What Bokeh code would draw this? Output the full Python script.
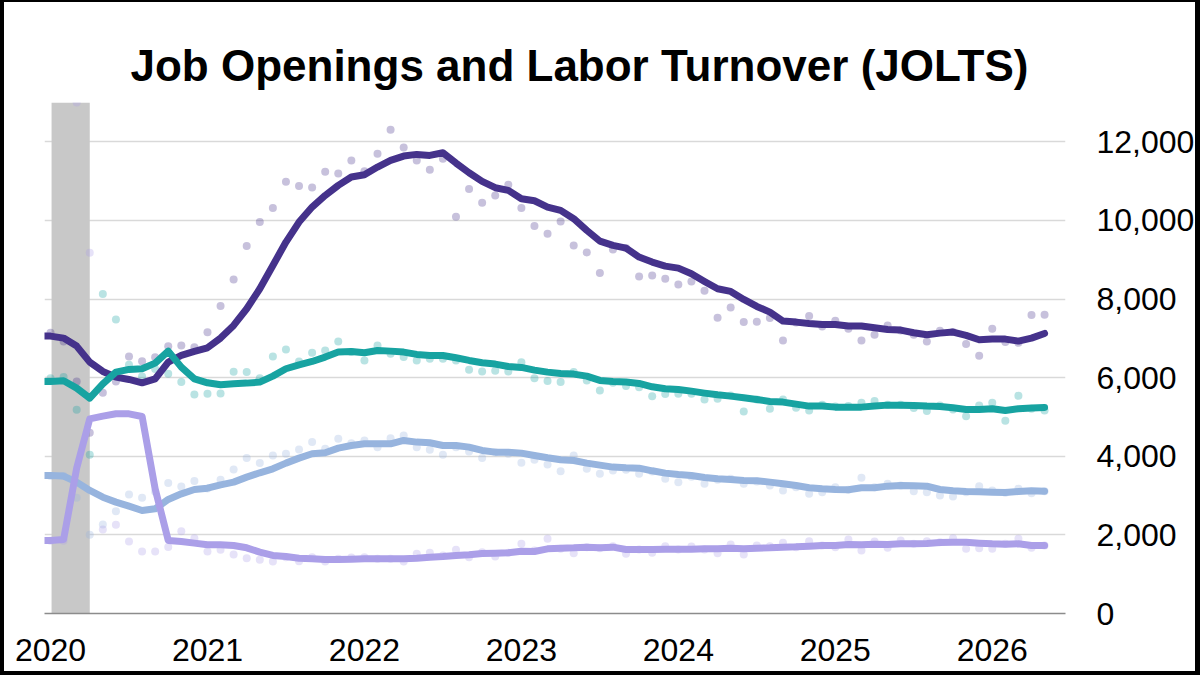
import pandas as pd
from bokeh.plotting import figure
from bokeh.models import Range1d, FixedTicker, NumeralTickFormatter, BoxAnnotation, ColumnDataSource
from bokeh.embed import file_html
from bokeh.resources import INLINE

# Monthly periods: the smoothed trends start one month earlier than the monthly readings
months = pd.period_range("2019-12", "2026-05", freq="M")
years = [2020, 2021, 2022, 2023, 2024, 2025, 2026]

# Monthly readings (thousands), Jan 2020 - May 2026
openings = [7142, 6921, 5903, 4597, 5616, 5900, 6539, 6420, 6522, 6802, 6819, 6776,
            7158, 7820, 8499, 9347, 9958, 10314, 10984, 10874, 10840, 11239, 11196, 11527,
            11250, 11697, 12307, 11858, 11527, 11290, 11570, 10094, 10798, 10450, 10636, 10908,
            10314, 9856, 9661, 9975, 9364, 9186, 8660, 9262, 9300, 8575, 8601, 8516,
            8372, 8448, 8211, 7524, 7787, 7413, 7421, 7515, 6947, 7400, 7566, 7303,
            7447, 7244, 6947, 7091, 7329, 7201, 7091, 6921, 7193, 7159, 6853, 6557,
            7244, 6904, 6887, 7591, 7600]
hires = [5988, 6014, 5183, 4037, 8126, 7481, 6327, 6031, 6220, 6099, 5887, 5573,
         5590, 5600, 6149, 6141, 5988, 6540, 6718, 6412, 6633, 6692, 6921, 6650,
         6438, 6819, 6607, 6523, 6438, 6480, 6480, 6438, 6200, 6158, 6175, 6158,
         6395, 5988, 5912, 5887, 6141, 5929, 5674, 5869, 5785, 5759, 5530, 5581,
         5590, 5590, 5445, 5462, 5547, 5140, 5445, 5208, 5445, 5233, 5166, 5310,
         5267, 5276, 5361, 5403, 5310, 5310, 5225, 5149, 5293, 5191, 5021, 5293,
         5361, 4903, 5539, 5208, 5166]
quits = [3500, 3500, 2943, 2002, 2264, 2604, 3028, 2943, 3100, 3317, 3232, 3368,
         3180, 3402, 3664, 3953, 3826, 4020, 4063, 4173, 4360, 4190, 4445, 4334,
         4400, 4232, 4461, 4529, 4232, 4165, 4037, 4230, 4122, 3953, 4105, 4063,
         3834, 3910, 3792, 3622, 4020, 3681, 3554, 3639, 3656, 3554, 3613, 3427,
         3342, 3480, 3300, 3400, 3427, 3300, 3359, 3257, 3130, 3215, 3045, 3087,
         3215, 3147, 3452, 3215, 3300, 3257, 3113, 3087, 3002, 2977, 3087, 3240,
         3130, 3070, 3172, 3062, 3113]
layoffs = [1850, 1850, 13000, 9177, 2137, 2256, 1832, 1578, 1578, 1689, 2095, 1917,
           1578, 1620, 1501, 1408, 1366, 1323, 1433, 1332, 1433, 1323, 1391, 1425,
           1433, 1391, 1391, 1323, 1518, 1544, 1476, 1620, 1433, 1561, 1450, 1544,
           1772, 1603, 1900, 1645, 1535, 1688, 1662, 1713, 1518, 1628, 1544, 1713,
           1628, 1705, 1628, 1535, 1756, 1501, 1730, 1713, 1798, 1688, 1841, 1730,
           1688, 1883, 1603, 1832, 1671, 1858, 1772, 1841, 1815, 1917, 1645, 1662,
           1645, 1772, 1900, 1671, 1730]

# Six-month trailing averages (thousands), Dec 2019 - May 2026
openings_trend = [7060, 7057, 7006, 6803, 6395, 6158, 6014, 5954, 5869, 5971, 6395, 6565,
                  6667, 6760, 7006, 7329, 7753, 8262, 8855, 9449, 9958, 10340, 10636, 10891,
                  11103, 11162, 11357, 11527, 11637, 11680, 11654, 11722, 11459, 11213, 10993, 10832,
                  10764, 10552, 10501, 10340, 10255, 10043, 9746, 9474, 9364, 9296, 9067, 8940,
                  8838, 8787, 8643, 8448, 8262, 8194, 7990, 7812, 7668, 7439, 7413, 7379,
                  7354, 7354, 7312, 7312, 7269, 7227, 7210, 7142, 7091, 7133, 7159, 7074,
                  6964, 6981, 6981, 6930, 7006, 7125]
hires_trend = [5903, 5903, 5920, 5734, 5479, 5844, 6141, 6209, 6226, 6370, 6675, 6268,
               5971, 5869, 5819, 5844, 5861, 5887, 6039, 6226, 6327, 6412, 6523, 6650,
               6667, 6633, 6692, 6675, 6650, 6591, 6565, 6565, 6506, 6438, 6378, 6345,
               6285, 6260, 6192, 6141, 6107, 6090, 6039, 5929, 5903, 5887, 5853, 5768,
               5717, 5700, 5657, 5607, 5564, 5530, 5488, 5445, 5394, 5378, 5327, 5276,
               5276, 5250, 5250, 5250, 5276, 5301, 5301, 5293, 5276, 5267, 5233, 5191,
               5191, 5208, 5166, 5208, 5225, 5242]
quits_trend = [3512, 3512, 3495, 3342, 3130, 2960, 2833, 2731, 2621, 2663, 2901, 3045,
               3155, 3189, 3274, 3342, 3469, 3580, 3681, 3826, 3953, 4063, 4089, 4207,
               4275, 4317, 4317, 4317, 4402, 4360, 4343, 4275, 4275, 4232, 4148, 4105,
               4105, 4080, 4020, 3961, 3910, 3893, 3826, 3775, 3724, 3707, 3698, 3630,
               3571, 3537, 3512, 3461, 3427, 3410, 3384, 3376, 3342, 3300, 3257, 3198,
               3172, 3155, 3147, 3198, 3198, 3240, 3257, 3249, 3240, 3155, 3121, 3104,
               3096, 3087, 3079, 3104, 3121, 3113]
layoffs_trend = [1858, 1858, 1883, 3698, 4953, 5021, 5080, 5080, 5012, 3172, 1858, 1832,
                 1790, 1747, 1747, 1730, 1671, 1561, 1476, 1450, 1408, 1391, 1374, 1374,
                 1383, 1391, 1391, 1391, 1391, 1408, 1433, 1450, 1476, 1493, 1527, 1535,
                 1544, 1586, 1578, 1645, 1662, 1671, 1688, 1671, 1688, 1628, 1628, 1628,
                 1637, 1637, 1637, 1645, 1645, 1662, 1645, 1662, 1671, 1688, 1696, 1713,
                 1730, 1730, 1756, 1747, 1764, 1756, 1772, 1772, 1781, 1806, 1815, 1815,
                 1790, 1772, 1764, 1772, 1730, 1730]

y_ticks = [0, 2000, 4000, 6000, 8000, 10000, 12000]

# month index: 0 = January 2020
idx = [(m.year - 2020) * 12 + m.month - 1 for m in months]
dot_idx = idx[1:]

series = [
    ("Job openings", openings, openings_trend, "#45328b"),
    ("Hires", hires, hires_trend, "#17a3a1"),
    ("Quits", quits, quits_trend, "#97b4de"),
    ("Layoffs", layoffs, layoffs_trend, "#ab9fe8"),
]

p = figure(width=1200, height=675,
           x_range=Range1d(-0.46, 77.6), y_range=Range1d(0, 13000),
           y_axis_location="right",
           output_backend="svg", toolbar_location=None,
           min_border_left=40, min_border_right=139,
           min_border_top=100, min_border_bottom=64)
# black frame round the whole chart
p.styles = {"border-style": "solid", "border-color": "#000",
            "border-width": "2px 5px 4px 4px", "box-sizing": "border-box"}
p.outline_line_color = None
p.background_fill_color = "white"
p.border_fill_color = "white"

p.title.text = "Job Openings and Labor Turnover (JOLTS)"
p.title.align = "left"
p.title.offset = 86
p.title.text_font = "Liberation Sans"
p.title.text_font_size = "44px"
p.title.text_font_style = "bold"
p.title.text_color = "black"
p.title.standoff = 25

# recession shading
p.add_layout(BoxAnnotation(left=0.08, right=3.0, bottom=0, top=13000,
                           fill_color="#c8c8c8", fill_alpha=1.0,
                           line_color=None, level="underlay"))

for name, dots, trend, color in series:
    src = ColumnDataSource(dict(x=dot_idx, y=dots))
    p.scatter("x", "y", source=src, size=8, fill_color=color, fill_alpha=0.3,
              line_color=None)

for name, dots, trend, color in series:
    src = ColumnDataSource(dict(x=idx, y=trend))
    p.line("x", "y", source=src, line_width=7, line_color=color,
           line_cap="round", line_join="round")

# axes
year_pos = [(y - 2020) * 12 for y in years]
p.xaxis.ticker = FixedTicker(ticks=year_pos)
p.xaxis.major_label_overrides = {pos: str(y) for pos, y in zip(year_pos, years)}
p.xaxis.major_tick_line_color = None
p.xaxis.minor_tick_line_color = None
p.xaxis.axis_line_color = "#8c8c8c"
p.xaxis.axis_line_width = 1.5
p.xaxis.major_label_standoff = 19
p.xaxis.major_label_text_font = "Liberation Sans"
p.xaxis.major_label_text_font_size = "32px"
p.xaxis.major_label_text_color = "black"

p.yaxis.ticker = FixedTicker(ticks=y_ticks)
p.yaxis.formatter = NumeralTickFormatter(format="0,0")
p.yaxis.axis_line_color = None
p.yaxis.major_tick_line_color = None
p.yaxis.minor_tick_line_color = None
p.yaxis.major_label_standoff = 25
p.yaxis.major_label_text_font = "Liberation Sans"
p.yaxis.major_label_text_font_size = "32px"
p.yaxis.major_label_text_color = "black"

p.xgrid.grid_line_color = None
p.ygrid.ticker = FixedTicker(ticks=y_ticks)
p.ygrid.grid_line_color = "#d9d9d9"
p.ygrid.grid_line_width = 1.5

open("out.html", "w").write(file_html(p, INLINE))
